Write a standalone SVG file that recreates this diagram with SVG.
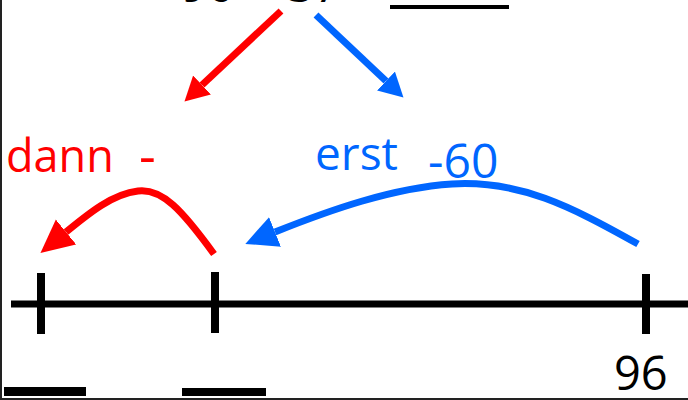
<svg xmlns="http://www.w3.org/2000/svg" width="688" height="400" viewBox="0 0 688 400">
<style>
  .t { font-family: "Open Sans", "DejaVu Sans", sans-serif; }
  .blk { fill: #000; }
  .red { fill: #ff0000; }
  .blue { fill: #0066ff; }
  .ax { stroke: #000; stroke-width: 7; fill: none; }
  .tick { stroke: #000; stroke-width: 8; }
  .ar { stroke: #ff0000; stroke-width: 7; fill: none; }
  .ab { stroke: #0066ff; stroke-width: 7; fill: none; }
</style>
<defs>
  <marker id="hrS" markerUnits="userSpaceOnUse" markerWidth="26" markerHeight="28" refX="0" refY="13" orient="auto"><path d="M0,0 L24,13 L0,26 z" fill="#ff0000"/></marker>
  <marker id="hbS" markerUnits="userSpaceOnUse" markerWidth="26" markerHeight="28" refX="0" refY="13" orient="auto"><path d="M0,0 L24,13 L0,26 z" fill="#0066ff"/></marker>
  <marker id="hrL" markerUnits="userSpaceOnUse" markerWidth="34" markerHeight="34" refX="0" refY="16" orient="auto"><path d="M0,0 L33,16 L0,32 z" fill="#ff0000"/></marker>
  <marker id="hbL" markerUnits="userSpaceOnUse" markerWidth="34" markerHeight="34" refX="0" refY="16" orient="auto"><path d="M0,0 L32,16 L0,32 z" fill="#0066ff"/></marker>
</defs>
<rect width="688" height="400" fill="#fff"/>
<g id="frame">
  <line x1="1" y1="0" x2="1" y2="400" stroke="#222" stroke-width="2"/>
  <line x1="0" y1="399" x2="688" y2="399" stroke="#222" stroke-width="2"/>
</g>
<g id="task">
  <text class="t blk" font-size="46" y="2"><tspan x="181">96</tspan><tspan x="248">−</tspan><tspan x="288">37</tspan></text>
  <rect x="390" y="5" width="119" height="4" class="blk"/>
</g>
<g id="label-dann">
  <text class="t red" font-size="45" y="172"><tspan x="6">dann</tspan><tspan x="139" font-size="52" y="174">-</tspan></text>
</g>
<g id="label-erst">
  <text class="t blue" font-size="46" x="315" y="170">erst</text>
  <text class="t blue" font-size="48" x="428" y="178">-60</text>
</g>
<g id="numberline">
  <line class="ax" x1="11" y1="304" x2="688" y2="304"/>
  <line class="tick" x1="41" y1="273" x2="41" y2="334"/>
  <line class="tick" x1="215" y1="272" x2="215" y2="333"/>
  <line class="tick" x1="646" y1="274" x2="646" y2="334"/>
  <text class="t blk" font-size="47" x="614" y="390">96</text>
</g>
<g id="blanks">
  <rect x="4" y="387" width="82" height="9" class="blk"/>
  <rect x="182" y="388" width="84" height="8" class="blk"/>
</g>
<g id="connectors">
  <path class="ar" d="M281,11 L202,85" marker-end="url(#hrS)"/>
  <path class="ab" d="M316,15 L386,81" marker-end="url(#hbS)"/>
  <path class="ar" d="M214,254 C182,210 162,188 138,191 C112,194 88,214 66,232" marker-end="url(#hrL)"/>
  <path class="ab" d="M638,244 C570,206 520,180 452,184 C392,188 330,210 275,232" marker-end="url(#hbL)"/>
</g>
</svg>
